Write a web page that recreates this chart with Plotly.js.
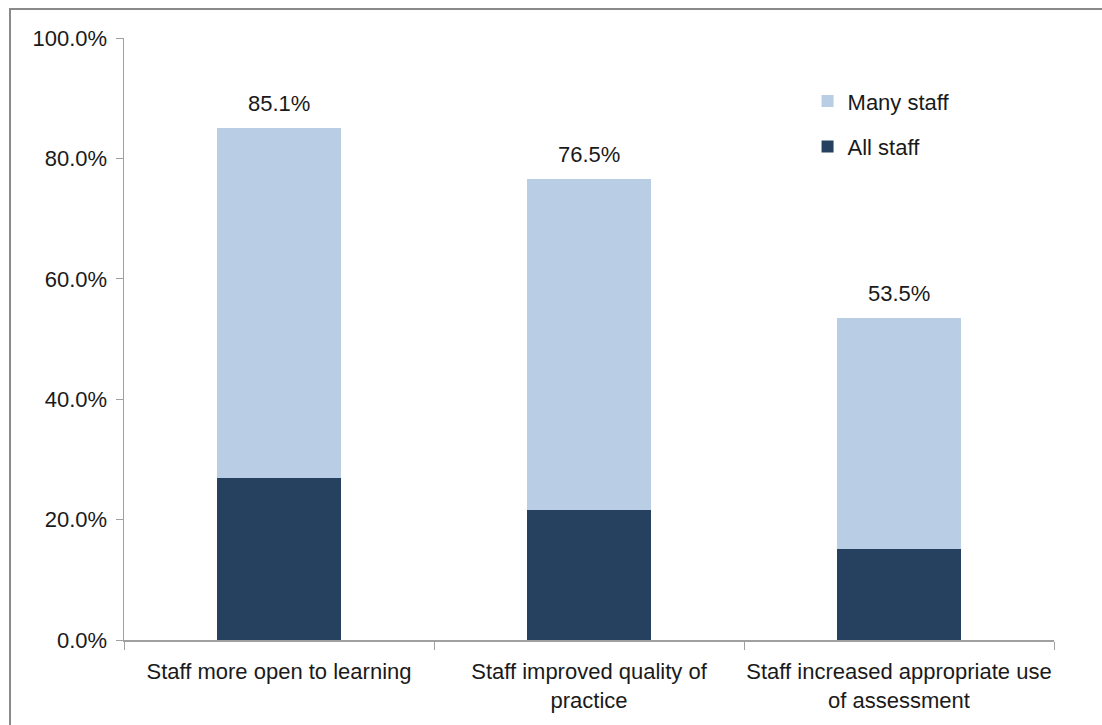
<!DOCTYPE html>
<html>
<head>
<meta charset="utf-8">
<script src="https://cdn.plot.ly/plotly-3.0.1.min.js"></script>
<style>
  html, body { margin: 0; padding: 0; background: #fff; }
  #chart { width: 1102px; height: 725px; }
  #frame { position: absolute; left: 9px; top: 8px; width: 1200px; height: 800px;
           border: 2px solid #8a8a8a; pointer-events: none; box-sizing: border-box; }
</style>
</head>
<body>
<div id="chart"></div>
<div id="frame"></div>
<script>
const categories = [
  "Staff more open to learning",
  "Staff improved quality of<br>practice",
  "Staff increased appropriate use<br>of assessment"
];
const allStaff = [26.9, 21.6, 15.2];
const manyStaff = [58.2, 54.9, 38.3];
const yTicks = [0, 20, 40, 60, 80, 100];

const FONT = "Liberation Sans, Arial, sans-serif";
const FS = 22;
const totals = allStaff.map((v, i) => v + manyStaff[i]);

const traces = [
  { type: "bar", name: "All staff", x: categories, y: allStaff,
    marker: { color: "#26405F" }, width: 0.4, legendgroup: "a", legendrank: 2,
    hoverinfo: "skip" },
  { type: "bar", name: "Many staff", x: categories, y: manyStaff,
    marker: { color: "#B9CDE5" }, width: 0.4, legendgroup: "b", legendrank: 1,
    hoverinfo: "skip" }
];

const annotations = categories.map((c, i) => ({
  x: c, y: totals[i], xref: "x", yref: "y",
  text: totals[i].toFixed(1) + "%", showarrow: false,
  yanchor: "bottom", yshift: 10,
  font: { family: FONT, size: FS, color: "#1a1a1a" }
}));

const layout = {
  width: 1102, height: 725,
  margin: { l: 124, r: 48, t: 38, b: 85 },
  paper_bgcolor: "#fff", plot_bgcolor: "#fff",
  barmode: "stack",
  showlegend: true,
  legend: {
    x: 0.735, y: 0.93, xanchor: "left", yanchor: "top",
    traceorder: "grouped", tracegroupgap: 14,
    font: { family: FONT, size: FS, color: "#1a1a1a" },
    bgcolor: "rgba(0,0,0,0)"
  },
  font: { family: FONT, size: FS, color: "#1a1a1a" },
  xaxis: {
    showline: true, linecolor: "#a0a0a0", linewidth: 1.5,
    ticks: "outside", tickson: "boundaries", ticklen: 8, tickcolor: "#a0a0a0",
    tickfont: { family: FONT, size: FS, color: "#1a1a1a" },
    tickangle: 0, automargin: false,
    ticklabelstandoff: 11,
    showgrid: false, zeroline: false
  },
  yaxis: {
    range: [0, 100], tickvals: yTicks,
    ticktext: yTicks.map(v => v.toFixed(1) + "%"),
    showline: true, linecolor: "#a0a0a0", linewidth: 1.5,
    ticks: "outside", ticklen: 7, tickcolor: "#a0a0a0",
    tickfont: { family: FONT, size: FS, color: "#1a1a1a" },
    ticklabelstandoff: 4,
    showgrid: false, zeroline: false
  },
  annotations: annotations
};

Plotly.newPlot("chart", traces, layout, { displayModeBar: false, staticPlot: true });
</script>
</body>
</html>
